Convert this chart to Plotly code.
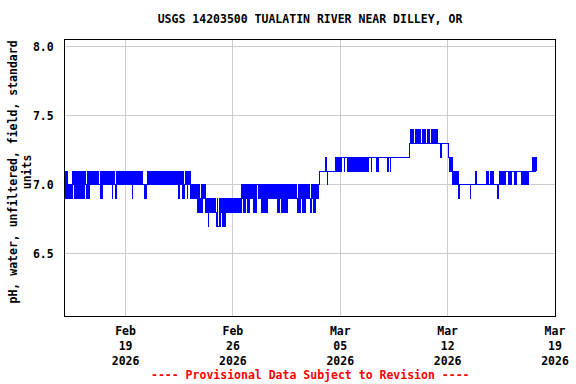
import plotly.graph_objects as go
import pandas as pd

TITLE = "USGS 14203500 TUALATIN RIVER NEAR DILLEY, OR"
Y_TITLE = "pH, water, unfiltered, field, standard<br>units"
FOOTER = "---- Provisional Data Subject to Revision ----"

# hourly readings, one string per day, starting at START
START = "2026-02-15 01:15"
DAYS = [
    "919190090909101919109191",
    "919191910091919010101010",
    "101010091901010101010101",
    "109101091010101010101010",
    "101010101910101010101010",
    "100009090101010101010101",
    "010101010101010101010101",
    "010101010191010191901019",
    "101019090909090808098080",
    "909089897989898989898797",
    "798798797979898989898989",
    "989898989898090808090808",
    "090909080808009090980808",
    "098080090909090909098080",
    "090808080808009090909090",
    "090980808098080809090909",
    "800908080909001111111111",
    "210111111111111121212121",
    "122221222212121212121212",
    "121212121212121212122221",
    "222222212122222222222222",
    "212221222222222222222222",
    "222222222223343434333434",
    "343433343434333434333343",
    "343343433333233333333333",
    "221212101010101090000000",
    "000000000090000000010000",
    "000000000000101000101010",
    "000090901010101010111101",
    "010111101011111111010101",
    "0101011111121212121",
]
CODES = {"7": 6.7, "8": 6.8, "9": 6.9, "0": 7.0, "1": 7.1, "2": 7.2, "3": 7.3, "4": 7.4}

for d in DAYS[:-1]:
    assert len(d) == 24, d

ph = [CODES[c] for c in "".join(DAYS)]
times = pd.date_range(START, periods=len(ph), freq="h")

X_TICKS = ["2026-02-19", "2026-02-26", "2026-03-05", "2026-03-12", "2026-03-19"]
X_LABELS = ["Feb<br>19<br>2026", "Feb<br>26<br>2026", "Mar<br>05<br>2026",
            "Mar<br>12<br>2026", "Mar<br>19<br>2026"]
Y_TICKS = [6.5, 7.0, 7.5, 8.0]
Y_LABELS = ["6.5", "7.0", "7.5", "8.0"]

FONT = dict(family="DejaVu Sans Mono", size=11.5, color="black", weight="bold")

fig = go.Figure(go.Scatter(x=times, y=ph, mode="lines",
                           line=dict(color="#0000ff", width=1, shape="hv",
                                     simplify=False)))

fig.update_layout(
    width=576, height=384,
    margin=dict(l=65, r=21, t=40, b=68, autoexpand=False),
    paper_bgcolor="white", plot_bgcolor="white",
    showlegend=False,
    font=FONT,
    title=dict(text=TITLE, x=0.5, xref="paper", y=1 - 19 / 384, yref="container",
               xanchor="center", yanchor="middle", font=FONT),
    xaxis=dict(range=[START, "2026-03-19 00:00"], tickvals=X_TICKS, ticktext=X_LABELS,
               showgrid=True, gridcolor="#cccccc", gridwidth=1, automargin=False,
               showline=True, linecolor="black", linewidth=1, mirror=True,
               ticks="", zeroline=False, tickfont=FONT, ticklabelstandoff=4),
    yaxis=dict(range=[6.05, 8.05], tickvals=Y_TICKS, ticktext=Y_LABELS,
               showgrid=True, gridcolor="#cccccc", gridwidth=1, automargin=False,
               showline=True, linecolor="black", linewidth=1, mirror=True,
               ticks="", zeroline=False, tickfont=FONT, ticklabelstandoff=8),
    annotations=[
        dict(text=Y_TITLE, textangle=-90, xref="paper", yref="paper",
             x=(20 - 65) / 490, y=0.52, xanchor="center", yanchor="middle",
             showarrow=False, font=FONT),
        dict(text=FOOTER, xref="paper", yref="paper", x=0.5,
             y=-(375 - 316) / 276, xanchor="center", yanchor="middle",
             showarrow=False, font=dict(family="DejaVu Sans Mono", size=11.5,
                                        color="red", weight="bold")),
    ],
)

fig.write_html(
    "out.html",
    config={"displayModeBar": False, "staticPlot": True},
    post_script=(
        "document.body.style.margin='0';document.body.style.overflow='hidden';"
        "document.querySelectorAll('.scatterlayer path').forEach(function(p){"
        "p.style.shapeRendering='crispEdges';});"
    ),
)
